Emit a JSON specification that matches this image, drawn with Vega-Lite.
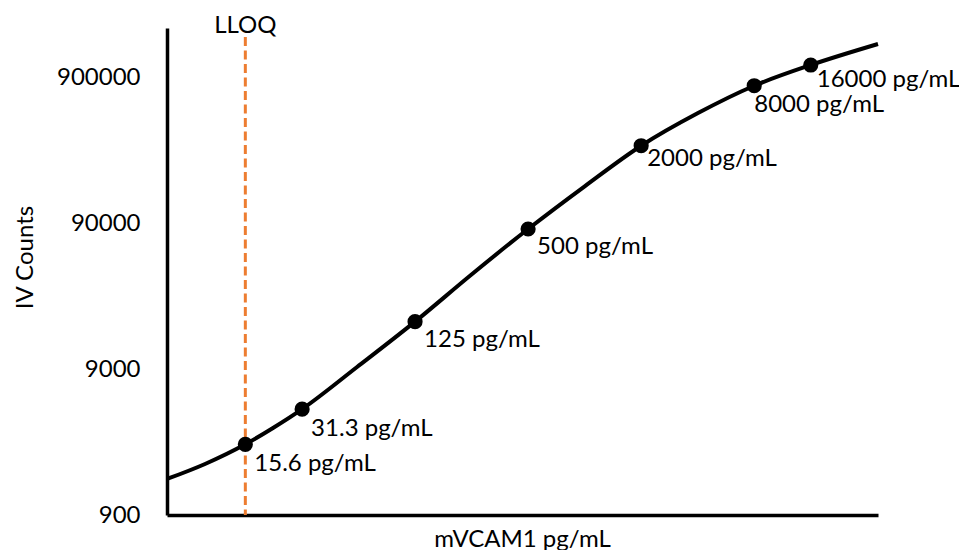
{
  "$schema": "https://vega.github.io/schema/vega-lite/v6.json",
  "width": 711,
  "height": 487,
  "autosize": "none",
  "padding": {"left": 167, "top": 28, "right": 81, "bottom": 35},
  "background": "white",
  "config": {
    "view": {"stroke": null},
    "font": "Lato",
    "text": {"font": "Lato", "fontSize": 24, "color": "black"},
    "axis": {"labelFont": "Lato", "titleFont": "Lato", "grid": false}
  },
  "datasets": {
    "curve": [
      {"conc": 5.97, "iv": 1588},
      {"conc": 9.52, "iv": 2012},
      {"conc": 15.6, "iv": 2745},
      {"conc": 21.9, "iv": 3550},
      {"conc": 31.3, "iv": 4780},
      {"conc": 61.4, "iv": 9288},
      {"conc": 125, "iv": 19000},
      {"conc": 248, "iv": 39650},
      {"conc": 500, "iv": 81900},
      {"conc": 1005, "iv": 161300},
      {"conc": 2000, "iv": 304600},
      {"conc": 4016, "iv": 510000},
      {"conc": 8000, "iv": 784600},
      {"conc": 16000, "iv": 1087700},
      {"conc": 36500, "iv": 1515000}
    ],
    "pts": [
      {"conc": 15.6, "iv": 2745, "label": "15.6 pg/mL", "grp": "a"},
      {"conc": 31.3, "iv": 4780, "label": "31.3 pg/mL", "grp": "a"},
      {"conc": 125, "iv": 19000, "label": "125 pg/mL", "grp": "b"},
      {"conc": 500, "iv": 81900, "label": "500 pg/mL", "grp": "b"},
      {"conc": 2000, "iv": 304600, "label": "2000 pg/mL", "grp": "c"},
      {"conc": 8000, "iv": 784600, "label": "8000 pg/mL", "grp": "d"},
      {"conc": 16000, "iv": 1087700, "label": "16000 pg/mL", "grp": "e"}
    ],
    "lloq": [
      {"conc": 15.6, "top": 1691000, "bottom": 900, "label": "LLOQ"}
    ]
  },
  "layer": [
    {
      "data": {"name": "curve"},
      "mark": {"type": "line", "color": "black", "strokeWidth": 4, "interpolate": "monotone"},
      "encoding": {
        "x": {
          "field": "conc", "type": "quantitative",
          "scale": {"type": "log", "domain": [5.97, 36500], "nice": false},
          "axis": {
            "title": "mVCAM1 pg/mL", "labels": false, "ticks": false, "tickSize": 0,
            "domainColor": "black", "domainWidth": 3.5,
            "titleFontSize": 24, "titleFontWeight": "normal", "titleColor": "black",
            "titleBaseline": "alphabetic", "titleY": 31, "titleX": 355
          }
        },
        "y": {
          "field": "iv", "type": "quantitative",
          "scale": {"type": "log", "domain": [900, 1950000], "nice": false},
          "axis": {
            "title": "IV Counts", "values": [900, 9000, 90000, 900000],
            "format": "d", "ticks": false, "tickSize": 0, "labelPadding": 27,
            "labelFontSize": 24, "labelColor": "black", "labelBaseline": "middle",
            "domainColor": "black", "domainWidth": 3.5,
            "titleFontSize": 24, "titleFontWeight": "normal", "titleColor": "black",
            "titleBaseline": "alphabetic", "titleX": -135, "titleY": 229, "titleAngle": -90
          }
        }
      }
    },
    {
      "data": {"name": "lloq"},
      "mark": {"type": "rule", "color": "#ED7D31", "strokeWidth": 3, "strokeDash": [9, 4.5]},
      "encoding": {
        "x": {"field": "conc", "type": "quantitative"},
        "y": {"field": "top", "type": "quantitative"},
        "y2": {"field": "bottom"}
      }
    },
    {
      "data": {"name": "lloq"},
      "mark": {"type": "text", "align": "center", "baseline": "alphabetic", "dy": -4},
      "encoding": {
        "x": {"field": "conc", "type": "quantitative"},
        "y": {"field": "top", "type": "quantitative"},
        "text": {"field": "label"}
      }
    },
    {
      "data": {"name": "pts"},
      "mark": {"type": "circle", "color": "black", "opacity": 1, "size": 230},
      "encoding": {
        "x": {"field": "conc", "type": "quantitative"},
        "y": {"field": "iv", "type": "quantitative"}
      }
    },
    {
      "data": {"name": "pts"},
      "transform": [{"filter": "datum.grp == 'a'"}],
      "mark": {"type": "text", "align": "left", "baseline": "alphabetic", "dx": 9, "dy": 27},
      "encoding": {
        "x": {"field": "conc", "type": "quantitative"},
        "y": {"field": "iv", "type": "quantitative"},
        "text": {"field": "label"}
      }
    },
    {
      "data": {"name": "pts"},
      "transform": [{"filter": "datum.grp == 'b'"}],
      "mark": {"type": "text", "align": "left", "baseline": "alphabetic", "dx": 9, "dy": 25},
      "encoding": {
        "x": {"field": "conc", "type": "quantitative"},
        "y": {"field": "iv", "type": "quantitative"},
        "text": {"field": "label"}
      }
    },
    {
      "data": {"name": "pts"},
      "transform": [{"filter": "datum.grp == 'c'"}],
      "mark": {"type": "text", "align": "left", "baseline": "alphabetic", "dx": 6, "dy": 20},
      "encoding": {
        "x": {"field": "conc", "type": "quantitative"},
        "y": {"field": "iv", "type": "quantitative"},
        "text": {"field": "label"}
      }
    },
    {
      "data": {"name": "pts"},
      "transform": [{"filter": "datum.grp == 'd'"}],
      "mark": {"type": "text", "align": "left", "baseline": "alphabetic", "dx": 0, "dy": 26},
      "encoding": {
        "x": {"field": "conc", "type": "quantitative"},
        "y": {"field": "iv", "type": "quantitative"},
        "text": {"field": "label"}
      }
    },
    {
      "data": {"name": "pts"},
      "transform": [{"filter": "datum.grp == 'e'"}],
      "mark": {"type": "text", "align": "left", "baseline": "alphabetic", "dx": 6, "dy": 22},
      "encoding": {
        "x": {"field": "conc", "type": "quantitative"},
        "y": {"field": "iv", "type": "quantitative"},
        "text": {"field": "label"}
      }
    }
  ]
}
